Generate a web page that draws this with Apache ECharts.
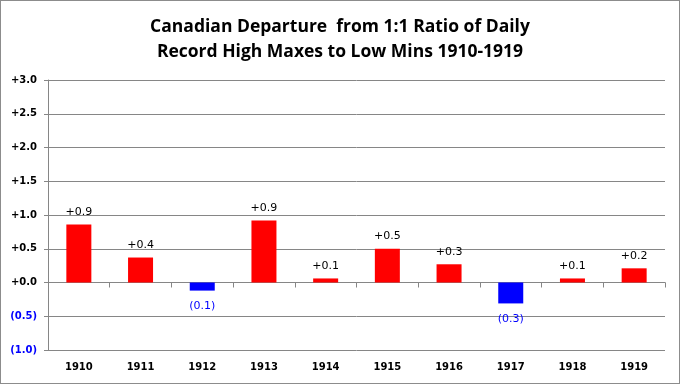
<!DOCTYPE html>
<html><head><meta charset="utf-8">
<script src="https://cdn.jsdelivr.net/npm/echarts@6/dist/echarts.min.js"></script>
<style>
html,body{margin:0;padding:0;background:#fff;}
#c{position:absolute;left:0;top:0;width:678px;height:382px;border:1px solid #8c8c8c;}
</style></head>
<body><div id="c"></div>
<script>
const titleLines = ["Canadian Departure  from 1:1 Ratio of Daily", "Record High Maxes to Low Mins 1910-1919"];
const years = ["1910","1911","1912","1913","1914","1915","1916","1917","1918","1919"];
const departures = [0.86, 0.37, -0.12, 0.92, 0.06, 0.50, 0.27, -0.31, 0.06, 0.21];
const yMin = -1.0, yMax = 3.0, yStep = 0.5;

function fmt(v){ return v < 0 ? "(" + Math.abs(v).toFixed(1) + ")" : "+" + v.toFixed(1); }
const chart = echarts.init(document.getElementById('c'));
chart.setOption({
  animation:false,
  title:{text:titleLines.join("\n"),left:'center',top:9,
    textStyle:{fontFamily:'Open Sans',fontWeight:'bold',fontSize:17.5,lineHeight:25,color:'#000'}},
  grid:{left:47,right:14,top:79,bottom:33,containLabel:false},
  xAxis:[{type:'category',data:years,position:'bottom',
      axisLine:{onZero:true,lineStyle:{color:'#868686'}},
      axisTick:{show:true,length:5,interval:0,lineStyle:{color:'#868686'}},
      axisLabel:{show:false}},
    {type:'category',data:years,position:'bottom',
      axisLine:{show:false,onZero:false},axisTick:{show:false},
      axisLabel:{show:true,margin:12,fontFamily:'DejaVu Sans',fontWeight:'bold',fontSize:10,color:'#000'}}],
  yAxis:{type:'value',min:yMin,max:yMax,interval:yStep,
    axisLine:{show:true,lineStyle:{color:'#868686'}},
    axisTick:{show:true,length:4,lineStyle:{color:'#868686'}},
    splitLine:{lineStyle:{color:'#868686'}},
    axisLabel:{margin:11,fontFamily:'DejaVu Sans',fontWeight:'bold',fontSize:10,
      formatter:v=>fmt(v),
      color:v=>(v<0?'#0000ff':'#000')}},
  series:[{type:'bar',xAxisIndex:0,barWidth:25,
    data:departures.map(v=>({value:v,itemStyle:{color:v<0?'#0000ff':'#ff0000'},
      label:{position:v<0?'bottom':'top',distance:v<0?10:7,color:v<0?'#0000ff':'#000'}})),
    label:{show:true,fontFamily:'DejaVu Sans',fontSize:11,formatter:p=>fmt(p.value)}}]
});
</script></body></html>
